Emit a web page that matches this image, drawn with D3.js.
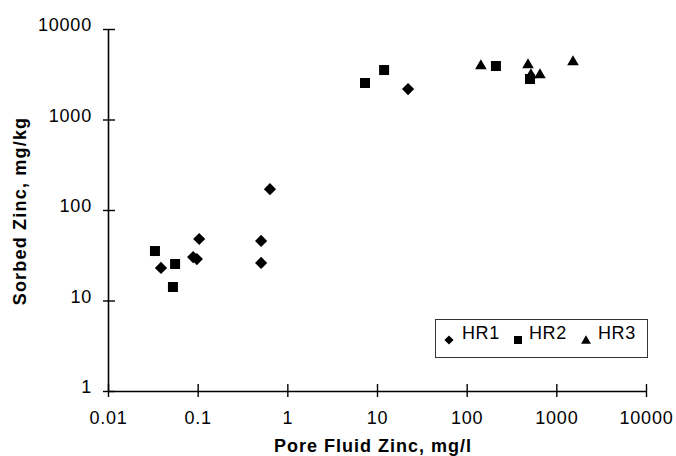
<!DOCTYPE html>
<html><head><meta charset="utf-8">
<script src="https://cdn.jsdelivr.net/npm/d3@7"></script>
<style>body{margin:0;background:#fff}svg{display:block}text{font-family:"Liberation Sans",Arial,sans-serif}</style>
</head><body><svg id="c" width="676" height="456"></svg>
<script>
// Data
const xTicks = [0.01, 0.1, 1, 10, 100, 1000, 10000];
const xTickLabels = ["0.01", "0.1", "1", "10", "100", "1000", "10000"];
const yTicks = [1, 10, 100, 1000, 10000];
const yTickLabels = ["1", "10", "100", "1000", "10000"];
const seriesNames = ["HR1", "HR2", "HR3"];
const hr1X = [0.039, 0.089, 0.098, 0.104, 0.51, 0.51, 0.64, 22.2];
const hr1Y = [22.9, 30.2, 28.7, 47.8, 45.5, 26.0, 170, 2170];
const hr2X = [0.0334, 0.056, 0.053, 7.35, 12.0, 212, 508];
const hr2Y = [35.2, 25.3, 14.1, 2530, 3520, 3900, 2800];
const hr3X = [144, 483, 521, 657, 1534];
const hr3Y = [3900, 4000, 3100, 3100, 4320];

const svg = d3.select("#c");
const x = d3.scaleLog().domain([0.01, 10000]).range([108, 646]);
const y = d3.scaleLog().domain([1, 10000]).range([391, 29]);

// Axes
const gx = svg.append("g").attr("transform", "translate(0,391)")
  .call(d3.axisBottom(x).tickValues(xTicks).tickFormat((d, i) => xTickLabels[i]).tickSizeOuter(0));
gx.select(".domain").attr("stroke", "#000").attr("stroke-width", 1.6);
gx.selectAll(".tick line").attr("y1", -7).attr("y2", 6).attr("stroke-width", 1.4);
gx.selectAll(".tick text").attr("y", 20).attr("dy", "0.71em").attr("font-size", 18).attr("letter-spacing", 0.8).attr("fill", "#000");

const gy = svg.append("g").attr("transform", "translate(108,0)")
  .call(d3.axisLeft(y).tickValues(yTicks).tickFormat((d, i) => yTickLabels[i]).tickSizeOuter(0));
gy.select(".domain").attr("stroke", "#000").attr("stroke-width", 1.6);
gy.selectAll(".tick line").attr("x1", -5).attr("x2", 7).attr("stroke-width", 1.4);
gy.selectAll(".tick text").attr("x", -16).attr("dy", "0.1em").attr("font-size", 18).attr("letter-spacing", 0.8).attr("fill", "#000");

// Titles
svg.append("text").attr("x", 373).attr("y", 452).attr("text-anchor", "middle")
  .attr("font-size", 18).attr("font-weight", "bold").attr("letter-spacing", 1).text("Pore Fluid Zinc, mg/l");
svg.append("text").attr("transform", "translate(26,211) rotate(-90)").attr("text-anchor", "middle")
  .attr("font-size", 18).attr("font-weight", "bold").attr("letter-spacing", 1.2).text("Sorbed Zinc, mg/kg");

// Markers
const diamond = d3.symbol().type(d3.symbolSquare).size(74)();
const square = d3.symbol().type(d3.symbolSquare).size(100)();
const tri = d3.symbol().type(d3.symbolTriangle).size(58)();
const series = [
  {xs: hr1X, ys: hr1Y, path: diamond, rot: 45},
  {xs: hr2X, ys: hr2Y, path: square, rot: 0},
  {xs: hr3X, ys: hr3Y, path: tri, rot: 0}
];
series.forEach(s => {
  svg.append("g").selectAll("path").data(s.xs.map((v, i) => [v, s.ys[i]])).join("path")
    .attr("d", s.path)
    .attr("transform", d => `translate(${x(d[0])},${y(d[1])}) rotate(${s.rot})`)
    .attr("fill", "#000");
});

// Legend
const lg = svg.append("g");
lg.append("rect").attr("x", 435.5).attr("y", 319.5).attr("width", 212).attr("height", 38)
  .attr("fill", "#fff").attr("stroke", "#333").attr("stroke-width", 1);
const legPaths = [
  d3.symbol().type(d3.symbolSquare).size(42)(),
  d3.symbol().type(d3.symbolSquare).size(64)(),
  d3.symbol().type(d3.symbolTriangle).size(42)()
];
const legMX = [449, 518, 586];
const legTX = [462, 529, 598];
const legRot = [45, 0, 0];
seriesNames.forEach((n, i) => {
  lg.append("path").attr("d", legPaths[i]).attr("transform", `translate(${legMX[i]},${i === 2 ? 341 : 340}) rotate(${legRot[i]})`).attr("fill", "#000");
  lg.append("text").attr("x", legTX[i]).attr("y", 339).attr("font-size", 18).attr("letter-spacing", 0.6).text(n);
});
</script></body></html>
